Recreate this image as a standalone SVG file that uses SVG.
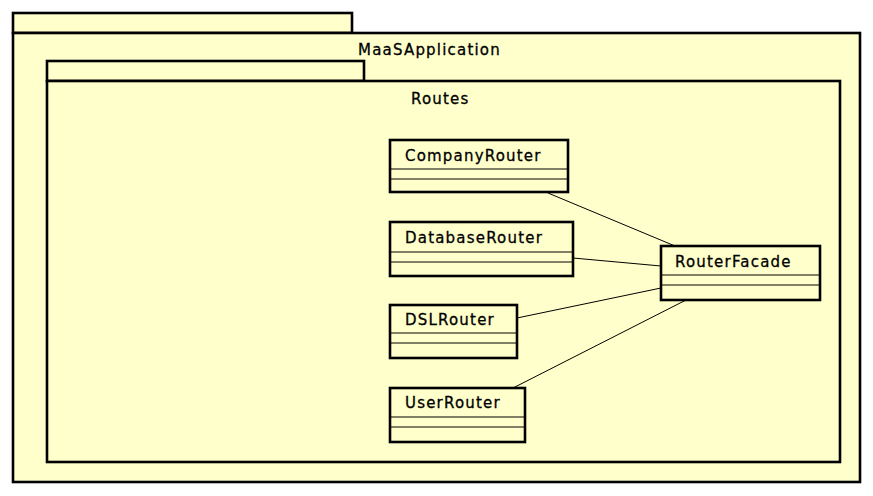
<svg xmlns="http://www.w3.org/2000/svg" width="873" height="496" viewBox="0 0 873 496">
  <style>
    .pkg { fill: #ffffcc; stroke: #000; stroke-width: 2.6; }
    .cls { fill: #ffffcc; stroke: #000; stroke-width: 2.6; }
    .sep { stroke: #000; stroke-width: 1; }
    .edge { stroke: #000; stroke-width: 1; fill: none; }
    text { font-family: "DejaVu Sans", sans-serif; font-size: 15px; letter-spacing: 1.2px; fill: #000; stroke: #000; stroke-width: 0.3; }
  </style>
  <rect width="873" height="496" fill="#fff"/>

  <g id="pkg-MaaSApplication">
    <rect class="pkg" x="13" y="13" width="339" height="20"/>
    <rect class="pkg" x="13" y="33" width="847" height="449"/>
    <text x="358" y="55">MaaSApplication</text>
  </g>

  <g id="pkg-Routes">
    <rect class="pkg" x="47" y="61" width="317" height="20"/>
    <rect class="pkg" x="47" y="81" width="793" height="381"/>
    <text x="411" y="104">Routes</text>
  </g>

  <g id="connectors">
    <line class="edge" x1="548" y1="193" x2="675" y2="246"/>
    <line class="edge" x1="573" y1="258" x2="661" y2="266"/>
    <line class="edge" x1="517" y1="318" x2="661" y2="288"/>
    <line class="edge" x1="513" y1="388" x2="686" y2="300"/>
  </g>

  <g id="CompanyRouter">
    <rect class="cls" x="390" y="140" width="178" height="52"/>
    <line class="sep" x1="390" y1="169" x2="568" y2="169"/>
    <line class="sep" x1="390" y1="179" x2="568" y2="179"/>
    <text x="405" y="161">CompanyRouter</text>
  </g>

  <g id="DatabaseRouter">
    <rect class="cls" x="390" y="222" width="183" height="54"/>
    <line class="sep" x1="390" y1="252" x2="573" y2="252"/>
    <line class="sep" x1="390" y1="262" x2="573" y2="262"/>
    <text x="405" y="243">DatabaseRouter</text>
  </g>

  <g id="DSLRouter">
    <rect class="cls" x="390" y="305" width="127" height="53"/>
    <line class="sep" x1="390" y1="333" x2="517" y2="333"/>
    <line class="sep" x1="390" y1="343" x2="517" y2="343"/>
    <text x="405" y="325">DSLRouter</text>
  </g>

  <g id="UserRouter">
    <rect class="cls" x="390" y="388" width="135" height="54"/>
    <line class="sep" x1="390" y1="417" x2="525" y2="417"/>
    <line class="sep" x1="390" y1="427" x2="525" y2="427"/>
    <text x="405" y="408">UserRouter</text>
  </g>

  <g id="RouterFacade">
    <rect class="cls" x="661" y="246" width="159" height="54"/>
    <line class="sep" x1="661" y1="275" x2="820" y2="275"/>
    <line class="sep" x1="661" y1="285" x2="820" y2="285"/>
    <text x="675" y="267">RouterFacade</text>
  </g>
</svg>
